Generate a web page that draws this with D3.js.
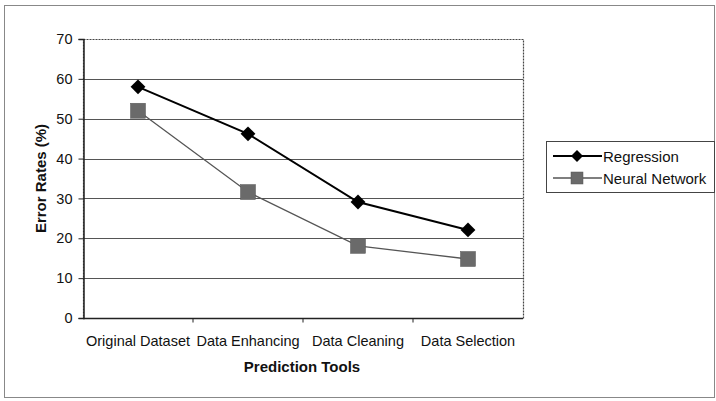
<!DOCTYPE html>
<html>
<head>
<meta charset="utf-8">
<script src="https://cdn.jsdelivr.net/npm/d3@7"></script>
<style>
  body { margin: 0; background: #fff; }
  svg { display: block; font-family: "Liberation Sans", Arial, sans-serif; }
</style>
</head>
<body>
<script>
const categories = ["Original Dataset", "Data Enhancing", "Data Cleaning", "Data Selection"];
const regression = [58, 46.2, 29.1, 22.1];
const neuralNetwork = [52, 31.6, 18.1, 14.8];
const yTicks = [0, 10, 20, 30, 40, 50, 60, 70];
const seriesNames = ["Regression", "Neural Network"];

const width = 716, height = 401;
const plot = { left: 83, right: 523, top: 39, bottom: 318 };

const svg = d3.select("body").append("svg")
  .attr("width", width)
  .attr("height", height);

// outer chart border
svg.append("rect")
  .attr("x", 4.5).attr("y", 5.5)
  .attr("width", 710).attr("height", 392)
  .attr("fill", "none")
  .attr("stroke", "#888")
  .attr("stroke-width", 1);

const x = d3.scaleBand()
  .domain(categories)
  .range([plot.left, plot.right]);

const y = d3.scaleLinear()
  .domain([0, 70])
  .range([plot.bottom, plot.top]);

// gridlines
svg.append("g")
  .selectAll("line")
  .data(yTicks.filter(d => d > 0 && d < 70))
  .join("line")
  .attr("x1", plot.left).attr("x2", plot.right)
  .attr("y1", d => Math.round(y(d)) + 0.5)
  .attr("y2", d => Math.round(y(d)) + 0.5)
  .attr("stroke", "#555")
  .attr("stroke-width", 1);

// plot area border
svg.append("rect")
  .attr("x", plot.left + 0.5).attr("y", plot.top + 0.5)
  .attr("width", plot.right - plot.left).attr("height", plot.bottom - plot.top)
  .attr("fill", "none")
  .attr("stroke", "#444")
  .attr("stroke-width", 1.2)
  .attr("stroke-dasharray", "2,1");

// y axis
const yAxis = svg.append("g")
  .attr("transform", `translate(${plot.left + 0.5},0)`)
  .call(d3.axisLeft(y).tickValues(yTicks).tickSize(5).tickPadding(6).tickFormat(d3.format("d")));
yAxis.select(".domain").attr("stroke", "#222").attr("stroke-width", 1.5);
yAxis.selectAll(".tick line").attr("stroke", "#222");
yAxis.selectAll("text").attr("font-size", 14.5).attr("fill", "#111");

// x axis: ticks at category boundaries
const xAxis = svg.append("g")
  .attr("transform", `translate(0,${plot.bottom + 0.5})`);
xAxis.append("line")
  .attr("x1", plot.left).attr("x2", plot.right)
  .attr("stroke", "#222").attr("stroke-width", 1.5);
xAxis.selectAll("line.tk")
  .data(categories.slice(1))
  .join("line")
  .attr("class", "tk")
  .attr("x1", d => x(d)).attr("x2", d => x(d))
  .attr("y1", 0).attr("y2", 4)
  .attr("stroke", "#222");
xAxis.selectAll("text")
  .data(categories)
  .join("text")
  .attr("x", d => x(d) + x.bandwidth() / 2)
  .attr("y", 27)
  .attr("text-anchor", "middle")
  .attr("font-size", 14.5)
  .attr("fill", "#111")
  .text(d => d);

// axis titles
svg.append("text")
  .attr("x", (plot.left + plot.right) / 2 - 1)
  .attr("y", 372)
  .attr("text-anchor", "middle")
  .attr("font-size", 15)
  .attr("font-weight", "bold")
  .attr("fill", "#111")
  .text("Prediction Tools");

svg.append("text")
  .attr("transform", `translate(46,${(plot.top + plot.bottom) / 2}) rotate(-90)`)
  .attr("text-anchor", "middle")
  .attr("font-size", 15)
  .attr("font-weight", "bold")
  .attr("fill", "#111")
  .text("Error Rates (%)");

const cx = d => x(d) + x.bandwidth() / 2;
const line = d3.line()
  .x((d, i) => cx(categories[i]))
  .y(d => y(d));

// Neural Network series
svg.append("path")
  .datum(neuralNetwork)
  .attr("d", line)
  .attr("fill", "none")
  .attr("stroke", "#555")
  .attr("stroke-width", 1.3);
svg.append("g")
  .selectAll("rect")
  .data(neuralNetwork)
  .join("rect")
  .attr("x", (d, i) => cx(categories[i]) - 7.5)
  .attr("y", d => y(d) - 7.5)
  .attr("width", 15).attr("height", 15)
  .attr("fill", "#6a6a6a")
  .attr("stroke", "#555")
  .attr("stroke-width", 0.5);

// Regression series
svg.append("path")
  .datum(regression)
  .attr("d", line)
  .attr("fill", "none")
  .attr("stroke", "#000")
  .attr("stroke-width", 2);
const diamond = d3.symbol().type(d3.symbolSquare).size(110);
svg.append("g")
  .selectAll("path")
  .data(regression)
  .join("path")
  .attr("d", diamond)
  .attr("transform", (d, i) => `translate(${cx(categories[i])},${y(d)}) rotate(45)`)
  .attr("fill", "#000");

// legend
const legend = svg.append("g").attr("transform", "translate(546,141)");
legend.append("rect")
  .attr("x", 0.5).attr("y", 0.5)
  .attr("width", 168).attr("height", 51)
  .attr("fill", "#fff")
  .attr("stroke", "#444")
  .attr("stroke-width", 1);

const legRows = legend.selectAll("g.row")
  .data(seriesNames)
  .join("g")
  .attr("class", "row")
  .attr("transform", (d, i) => `translate(0,${15 + i * 22})`);

legRows.append("line")
  .attr("x1", 7).attr("x2", 56)
  .attr("stroke", (d, i) => i === 0 ? "#000" : "#555")
  .attr("stroke-width", (d, i) => i === 0 ? 2 : 1.3);

legRows.each(function(d, i) {
  const g = d3.select(this);
  if (i === 0) {
    g.append("path")
      .attr("d", d3.symbol().type(d3.symbolSquare).size(72))
      .attr("transform", "translate(31,0) rotate(45)")
      .attr("fill", "#000");
  } else {
    g.append("rect")
      .attr("x", 25).attr("y", -6)
      .attr("width", 12).attr("height", 12)
      .attr("fill", "#6a6a6a")
      .attr("stroke", "#555")
      .attr("stroke-width", 0.5);
  }
});

legRows.append("text")
  .attr("x", 57)
  .attr("y", 5.5)
  .attr("font-size", 15)
  .attr("fill", "#111")
  .text(d => d);
</script>
</body>
</html>
